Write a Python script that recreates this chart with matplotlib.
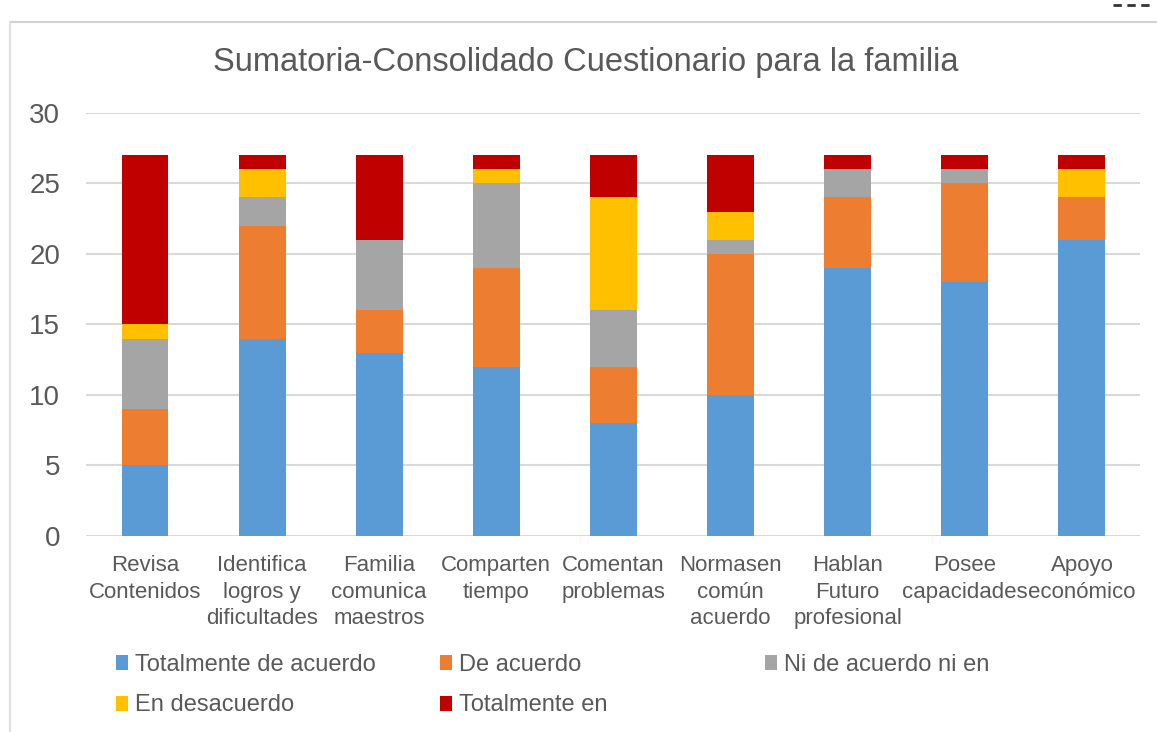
import numpy as np
import matplotlib
matplotlib.use("Agg")
import matplotlib.pyplot as plt
from matplotlib.patches import Patch
from matplotlib.lines import Line2D

plt.rcParams['font.family'] = ['Liberation Sans', 'DejaVu Sans']

categories = ["Revisa\nContenidos", "Identifica\nlogros y\ndificultades",
              "Familia\ncomunica\nmaestros", "Comparten\ntiempo",
              "Comentan\nproblemas", "Normasen\ncomún\nacuerdo",
              "Hablan\nFuturo\nprofesional", "Posee\ncapacidades",
              "Apoyo\neconómico"]
series_names = ["Totalmente de acuerdo", "De acuerdo", "Ni de acuerdo ni en",
                "En desacuerdo", "Totalmente en"]
totalmente_de_acuerdo = [5, 14, 13, 12, 8, 10, 19, 18, 21]
de_acuerdo = [4, 8, 3, 7, 4, 10, 5, 7, 3]
ni_de_acuerdo = [5, 2, 5, 6, 4, 1, 2, 1, 0]
en_desacuerdo = [1, 2, 0, 1, 8, 2, 0, 0, 2]
totalmente_en = [12, 1, 6, 1, 3, 4, 1, 1, 1]
colors = ["#5b9bd5", "#ed7d31", "#a5a5a5", "#ffc000", "#c00000"]

series = [totalmente_de_acuerdo, de_acuerdo, ni_de_acuerdo, en_desacuerdo, totalmente_en]

fig = plt.figure(figsize=(11.57, 7.32), dpi=100)
ax = fig.add_axes([0.0747, 0.2678, 0.911, 0.578])

x = np.arange(len(categories))
bottom = np.zeros(len(categories))
for vals, c, name in zip(series, colors, series_names):
    ax.bar(x, vals, width=0.4, bottom=bottom, color=c, label=name, zorder=2)
    bottom += np.array(vals)

ax.set_xlim(-0.5, len(categories) - 0.5)
ax.set_ylim(0, 30)
ax.set_yticks(range(0, 31, 5))
ax.grid(axis='y', color='#d9d9d9', linewidth=1.5, zorder=0)
for s in ax.spines.values():
    s.set_visible(False)
ax.tick_params(length=0, colors='#595959')
ax.tick_params(axis='y', labelsize=20, pad=19)
ax.set_xticks(x)
ax.set_xticklabels(categories, fontsize=16, color='#595959', linespacing=1.32)
ax.tick_params(axis='x', pad=14)

fig.text(0.506, 0.915, "Sumatoria-Consolidado Cuestionario para la familia",
         ha='center', va='center', fontsize=23.5, color='#595959')

# legend in three separate columns
handles = [Patch(facecolor=c) for c in colors]
cols = [(0.092, [0, 3]), (0.372, [1, 4]), (0.653, [2])]
for xpos, idx in cols:
    fig.legend([handles[i] for i in idx], [series_names[i] for i in idx],
               loc='upper left', bbox_to_anchor=(xpos, 0.12),
               bbox_transform=fig.transFigure, frameon=False, fontsize=17,
               handlelength=0.5, handleheight=0.6, handletextpad=0.3,
               labelspacing=0.8, labelcolor='#595959', borderaxespad=0)

# chart frame
fig.add_artist(Line2D([0.009, 1.0], [0.970, 0.970], color='#d0d0d0', linewidth=1.5))
fig.add_artist(Line2D([0.009, 0.009], [0.0, 0.970], color='#e0e0e0', linewidth=1.5))
fig.add_artist(Line2D([0.962, 0.994], [0.993, 0.993], color='#333333',
                      linewidth=2, linestyle=(0, (3, 2))))

fig.savefig("out.png", dpi=100)
